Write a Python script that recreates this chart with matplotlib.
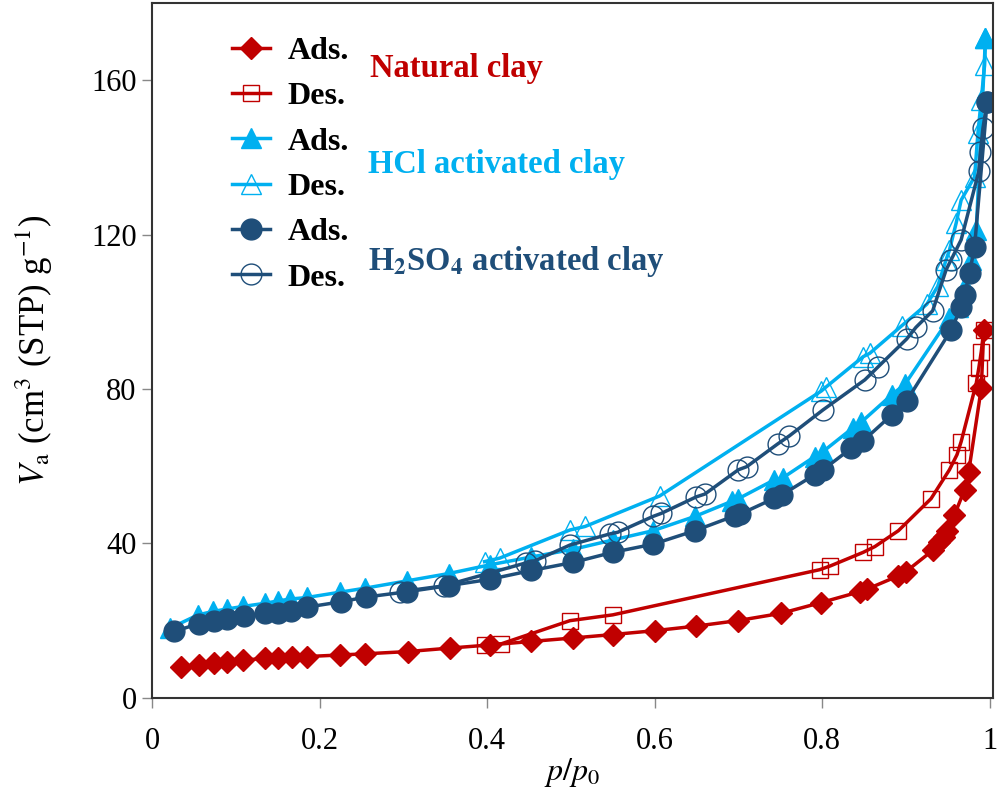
import matplotlib
matplotlib.use('Agg')
import matplotlib.pyplot as plt

plt.rcParams['font.family'] = ['Liberation Serif', 'DejaVu Serif']
plt.rcParams['mathtext.fontset'] = 'stix'

# Natural clay
NAT_ADS_P = [0.035, 0.056, 0.074, 0.090, 0.109, 0.135, 0.150, 0.167, 0.185, 0.224, 0.254,
             0.306, 0.356, 0.403, 0.452, 0.502, 0.550, 0.600, 0.650, 0.699, 0.751, 0.799,
             0.845, 0.854, 0.891, 0.900, 0.932, 0.940, 0.945, 0.949, 0.958, 0.970, 0.975,
             0.990, 0.993]
NAT_ADS_V = [7.9, 8.5, 9.0, 9.4, 9.8, 10.2, 10.3, 10.5, 10.7, 11.1, 11.4,
             12.0, 12.9, 13.7, 14.6, 15.5, 16.4, 17.4, 18.6, 20.0, 21.9, 24.7,
             27.5, 28.2, 31.6, 32.7, 38.2, 40.5, 41.8, 43.3, 47.4, 53.9, 58.6,
             80.2, 95.3]
NAT_DES_P = [0.397, 0.417, 0.499, 0.550, 0.797, 0.810, 0.849, 0.863, 0.891, 0.930, 0.952,
             0.961, 0.966, 0.984, 0.987, 0.990, 0.993]
NAT_DES_V = [13.7, 14.0, 20.0, 21.5, 33.2, 34.2, 37.7, 39.2, 43.3, 51.6, 59.1,
             63.0, 66.4, 81.5, 85.4, 89.7, 95.3]

# HCl activated clay
HCL_ADS_P = [0.022, 0.055, 0.073, 0.089, 0.109, 0.135, 0.150, 0.165, 0.185, 0.225, 0.254,
             0.304, 0.354, 0.404, 0.453, 0.503, 0.550, 0.598, 0.648, 0.693, 0.700, 0.743,
             0.753, 0.791, 0.801, 0.837, 0.847, 0.883, 0.899, 0.952, 0.962, 0.970, 0.978,
             0.984, 0.995]
HCL_ADS_V = [18.1, 21.5, 22.4, 23.0, 23.7, 24.5, 25.1, 25.6, 26.0, 27.4, 28.4,
             30.3, 32.2, 34.5, 36.5, 38.5, 40.9, 43.3, 47.0, 51.0, 51.6, 56.5,
             57.0, 62.5, 63.8, 70.0, 71.5, 78.5, 81.3, 98.4, 101.4, 106.6, 113.5,
             121.2, 170.9]
HCL_DES_P = [0.397, 0.415, 0.499, 0.517, 0.606, 0.799, 0.805, 0.849, 0.857, 0.895, 0.925,
             0.938, 0.948, 0.952, 0.960, 0.966, 0.982, 0.986, 0.990, 0.994, 0.995]
HCL_DES_V = [35.3, 36.2, 43.5, 44.4, 52.3, 79.5, 80.6, 88.4, 89.3, 96.4, 102.0,
             106.6, 113.5, 116.0, 123.0, 129.0, 135.0, 146.3, 155.0, 164.0, 170.9]

# H2SO4 activated clay
SUL_ADS_P = [0.026, 0.056, 0.074, 0.090, 0.110, 0.135, 0.150, 0.166, 0.185, 0.226, 0.255,
             0.305, 0.355, 0.403, 0.453, 0.503, 0.550, 0.598, 0.648, 0.696, 0.702, 0.743,
             0.752, 0.791, 0.801, 0.835, 0.849, 0.883, 0.901, 0.954, 0.966, 0.970, 0.976,
             0.982, 0.997]
SUL_ADS_V = [17.2, 19.2, 19.8, 20.4, 21.1, 21.9, 22.1, 22.5, 23.5, 24.9, 26.1,
             27.5, 29.1, 30.7, 33.0, 35.1, 37.7, 39.8, 43.3, 47.2, 47.6, 51.7,
             52.6, 57.8, 59.1, 64.7, 66.6, 73.3, 77.0, 95.3, 101.2, 104.4, 110.0,
             116.9, 154.5]
SUL_DES_P = [0.296, 0.348, 0.447, 0.457, 0.499, 0.547, 0.556, 0.598, 0.608, 0.650, 0.660,
             0.700, 0.710, 0.747, 0.761, 0.801, 0.851, 0.867, 0.901, 0.912, 0.932, 0.948,
             0.954, 0.966, 0.987, 0.989, 0.992, 0.997]
SUL_DES_V = [27.5, 29.0, 35.0, 35.5, 39.6, 42.5, 42.9, 47.0, 47.8, 52.1, 52.8,
             59.1, 59.9, 65.8, 67.9, 74.6, 82.4, 85.8, 93.0, 96.0, 100.3, 110.9,
             113.5, 118.7, 136.4, 141.5, 147.6, 154.5]

RED = '#C00000'
LBLUE = '#00B0F0'
DBLUE = '#1F4E79'

fig = plt.figure(figsize=(10, 7.93), dpi=100)
ax = fig.add_axes([0.152, 0.12, 0.841, 0.876])

lw = 2.5
h1, = ax.plot(NAT_ADS_P, NAT_ADS_V, '-', color=RED, lw=lw, marker='D', ms=11.5,
              mfc=RED, mec=RED)
h2, = ax.plot(NAT_DES_P, NAT_DES_V, '-', color=RED, lw=lw, marker='s', ms=12,
              mfc='none', mec=RED, mew=1.0)
h3, = ax.plot(HCL_ADS_P, HCL_ADS_V, '-', color=LBLUE, lw=lw, marker='^', ms=15,
              mfc=LBLUE, mec=LBLUE)
h4, = ax.plot(HCL_DES_P, HCL_DES_V, '-', color=LBLUE, lw=lw, marker='^', ms=15,
              mfc='none', mec=LBLUE, mew=1.0)
h5, = ax.plot(SUL_ADS_P, SUL_ADS_V, '-', color=DBLUE, lw=lw, marker='o', ms=15,
              mfc=DBLUE, mec=DBLUE)
h6, = ax.plot(SUL_DES_P, SUL_DES_V, '-', color=DBLUE, lw=lw, marker='o', ms=15,
              mfc='none', mec=DBLUE, mew=1.0)

ax.set_xlim(0, 1.004)
ax.set_ylim(0, 180)
ax.set_xticks([0, 0.2, 0.4, 0.6, 0.8, 1.0])
ax.set_xticklabels(['0', '0.2', '0.4', '0.6', '0.8', '1'])
ax.set_yticks([0, 40, 80, 120, 160])
ax.tick_params(axis='both', direction='out', length=7, width=1, color='#888888',
               labelsize=22)
ax.tick_params(axis='x', pad=14)
ax.tick_params(axis='y', pad=4)
for s in ax.spines.values():
    s.set_color('#333333')
    s.set_linewidth(1.5)

ax.set_xlabel(r'$p/p_0$', fontsize=23, labelpad=0)
ax.set_ylabel(r'$V_{\rm a}$ (cm$^3$ (STP) g$^{-1}$)', fontsize=25, labelpad=26)

leg = ax.legend([h1, h2, h3, h4, h5, h6], ['Ads.', 'Des.', 'Ads.', 'Des.', 'Ads.', 'Des.'],
                loc='upper left', bbox_to_anchor=(0.095, 0.952), frameon=False,
                prop={'weight': 'bold', 'size': 23}, handlelength=1.2,
                handletextpad=0.55, labelspacing=0.5, borderpad=0, borderaxespad=0)

ax.text(0.259, 0.906, 'Natural clay', transform=ax.transAxes, color=RED,
        fontsize=23.5, fontweight='bold', va='center', ha='left')
ax.text(0.257, 0.768, 'HCl activated clay', transform=ax.transAxes, color=LBLUE,
        fontsize=23.5, fontweight='bold', va='center', ha='left')
ax.text(0.257, 0.628, r'H$_\mathbf{2}$SO$_\mathbf{4}$ activated clay', transform=ax.transAxes,
        color=DBLUE, fontsize=23.5, fontweight='bold', va='center', ha='left')

fig.savefig('out.png', dpi=100)
